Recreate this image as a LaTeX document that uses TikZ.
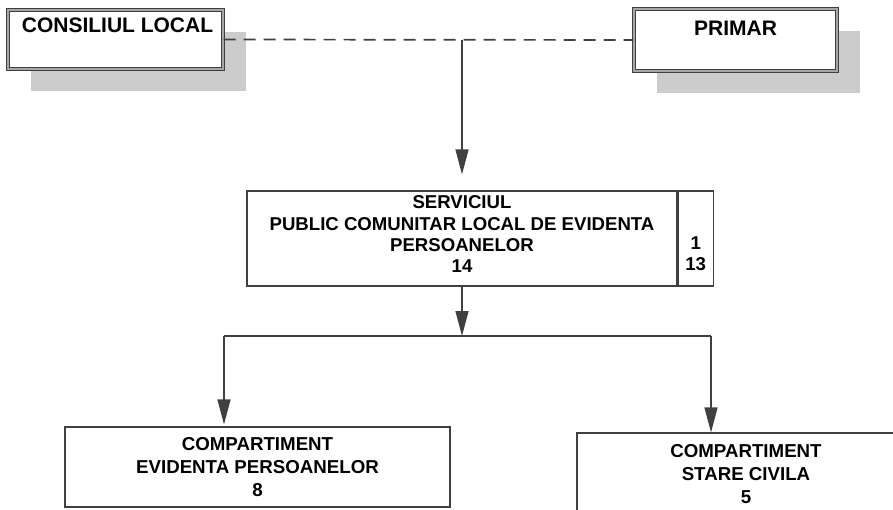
\documentclass[tikz,border=0pt]{standalone}
\usepackage{fontspec}
\setmainfont{Liberation Sans}
\usetikzlibrary{arrows.meta,shadows,positioning}
\definecolor{linegray}{rgb}{0.25,0.25,0.25}
\definecolor{shadowgray}{rgb}{0.8,0.8,0.8}

\tikzset{
	topbox/.style={draw=linegray, line width=1.1pt, double=black!35, double distance=1.2pt, fill=white,
		general shadow={shadow xshift=23pt, shadow yshift=-22pt, fill=shadowgray}},
	toptext/.style={font=\fontsize{21}{24}\selectfont\bfseries, inner sep=0pt},
	unitbox/.style={draw=linegray, line width=1.2pt, fill=white, align=center,
		font=\fontsize{18.6}{21.3}\selectfont\bfseries},
	subbox/.style={draw=linegray, line width=1.2pt, fill=white, align=center,
		font=\fontsize{18.7}{23}\selectfont\bfseries},
	arr/.style={draw=linegray, line width=1.3pt, -{Triangle[length=25pt,width=13pt]}}
}

\begin{document}
\begin{tikzpicture}[x=1pt, y=-1pt]
			\clip (0,0) rectangle (893,510);
			\fill[white] (0,0) rectangle (893,510);
			% top level
			\node[topbox, minimum width=215, minimum height=59] (consiliu) at (115.5,39.5) {};
			\node[topbox, minimum width=203, minimum height=62] (primar) at (735.5,40) {};
			\node[toptext] (consiliutext) at (117.5,25) {CONSILIUL LOCAL};
			\node[toptext] (primartext) at (735.5,28.5) {PRIMAR};
			\draw[linegray, line width=1.7pt, dash pattern=on 12pt off 8pt] (consiliu.east) -- (primar.west);
			\coordinate (dash) at (462,40);
			% service
			\node[unitbox, minimum width=430, minimum height=95] (serviciu) at (462,238.5)
				{SERVICIUL\\PUBLIC COMUNITAR LOCAL DE EVIDENTA\\PERSOANELOR\\14\\[-13pt]\mbox{}};
			\node[unitbox, minimum width=35, minimum height=95, inner sep=0pt, right=0pt of serviciu] (posturi)
				{\\[22pt]1\\13};
			\draw[arr, shorten >=16pt] (dash) -- (serviciu.north);
			% compartments
			\node[subbox, minimum width=385, minimum height=80] (evidenta) at (257.5,467)
				{COMPARTIMENT\\EVIDENTA PERSOANELOR\\8};
			\node[subbox, minimum width=338, minimum height=82] (stare) at (746,474)
				{COMPARTIMENT\\STARE CIVILA\\5};
			\coordinate (split) at (462,336);
			\coordinate (leftend) at (224,336);
			\coordinate (rightend) at (711,336);
			\draw[arr] (serviciu.south) -- (split);
			\draw[linegray, line width=1.3pt] (leftend) -- (rightend);
			\draw[arr, shorten >=2pt] (leftend) -- (leftend |- evidenta.north);
			\draw[arr] (rightend) -- (rightend |- stare.north);
		\end{tikzpicture}
\end{document}
